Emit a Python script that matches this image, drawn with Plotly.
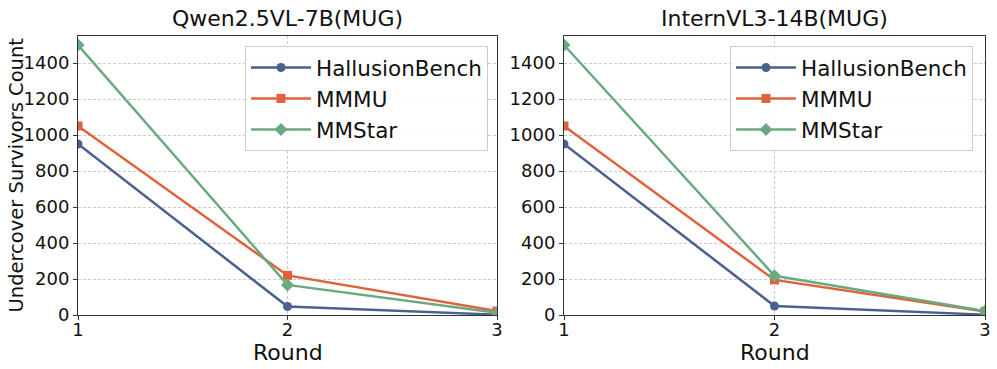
import plotly.graph_objects as go

rounds = [1, 2, 3]
series_names = ["HallusionBench", "MMMU", "MMStar"]

qwen_hallusion = [950, 47, 2]
qwen_mmmu = [1050, 220, 22]
qwen_mmstar = [1500, 167, 12]

intern_hallusion = [950, 50, 2]
intern_mmmu = [1050, 195, 20]
intern_mmstar = [1500, 218, 22]

panel_titles = ["Qwen2.5VL-7B(MUG)", "InternVL3-14B(MUG)"]

colors = ["#4a6190", "#e0623a", "#6aaa80"]
symbols = ["circle", "square", "diamond"]
FONT = "DejaVu Sans"

W, H = 997, 369


def px_x(px):
    return px / W


def px_y(py):
    return 1 - py / H


fig = go.Figure()

panels = [
    (qwen_hallusion, qwen_mmmu, qwen_mmstar),
    (intern_hallusion, intern_mmmu, intern_mmstar),
]

for p, data in enumerate(panels):
    xa = "x" if p == 0 else "x2"
    ya = "y" if p == 0 else "y2"
    lg = "legend" if p == 0 else "legend2"
    for name, vals, col, sym in zip(series_names, data, colors, symbols):
        fig.add_trace(go.Scatter(
            x=rounds, y=vals, name=name,
            mode="lines+markers",
            line=dict(color=col, width=2.5),
            marker=dict(symbol=sym, size=9 if sym != "diamond" else 10, color=col),
            xaxis=xa, yaxis=ya, legend=lg,
        ))

axis_common = dict(
    showline=True, mirror=True, linecolor="#333333", linewidth=1,
    ticks="outside", ticklen=4, tickcolor="#333333",
    showgrid=True, gridcolor="#cccccc", griddash="3px,2px", gridwidth=0.8,
    zeroline=False, automargin=False, ticklabeloverflow="allow",
    tickfont=dict(family=FONT, size=18, color="#111111"),
)

x_dom = [[px_x(78), px_x(497)], [px_x(564), px_x(985)]]
y_dom = [px_y(315), px_y(36)]

txt = dict(xref="paper", yref="paper", showarrow=False)

annotations = [
    dict(text=panel_titles[0], x=sum(x_dom[0]) / 2, y=px_y(18), xanchor="center", yanchor="middle",
         font=dict(family=FONT, size=22, color="#111111"), **txt),
    dict(text=panel_titles[1], x=sum(x_dom[1]) / 2, y=px_y(18), xanchor="center", yanchor="middle",
         font=dict(family=FONT, size=22, color="#111111"), **txt),
    dict(text="Round", x=sum(x_dom[0]) / 2, y=px_y(352), xanchor="center", yanchor="middle",
         font=dict(family=FONT, size=22, color="#111111"), **txt),
    dict(text="Round", x=sum(x_dom[1]) / 2, y=px_y(352), xanchor="center", yanchor="middle",
         font=dict(family=FONT, size=22, color="#111111"), **txt),
    dict(text="Undercover Survivors Count", x=px_x(16), y=sum(y_dom) / 2, xanchor="center",
         yanchor="middle", textangle=-90,
         font=dict(family=FONT, size=19.5, color="#111111"), **txt),
]

legend_common = dict(
    xanchor="right", yanchor="top",
    bgcolor="rgba(255,255,255,0.85)", bordercolor="#cccccc", borderwidth=1,
    font=dict(family=FONT, size=21.5), tracegroupgap=2, itemwidth=60,
)

fig.update_layout(
    width=W, height=H,
    margin=dict(l=0, r=0, t=0, b=0),
    paper_bgcolor="white", plot_bgcolor="white",
    font=dict(family=FONT, color="#111111"),
    xaxis=dict(domain=x_dom[0], range=[1, 3], tickvals=rounds, anchor="y",
               ticklabelstandoff=-6, **axis_common),
    yaxis=dict(domain=y_dom, range=[0, 1550], dtick=200, anchor="x", **axis_common),
    xaxis2=dict(domain=x_dom[1], range=[1, 3], tickvals=rounds, anchor="y2",
                ticklabelstandoff=-6, **axis_common),
    yaxis2=dict(domain=y_dom, range=[0, 1550], dtick=200, anchor="x2", **axis_common),
    legend=dict(x=px_x(488), y=px_y(46), **legend_common),
    legend2=dict(x=px_x(973), y=px_y(46), **legend_common),
    annotations=annotations,
)

# drop the default body margin so the 997x369 figure fills the window exactly
fig.write_html("out.html", config={"displayModeBar": False},
               post_script="document.body.style.margin='0px';")
